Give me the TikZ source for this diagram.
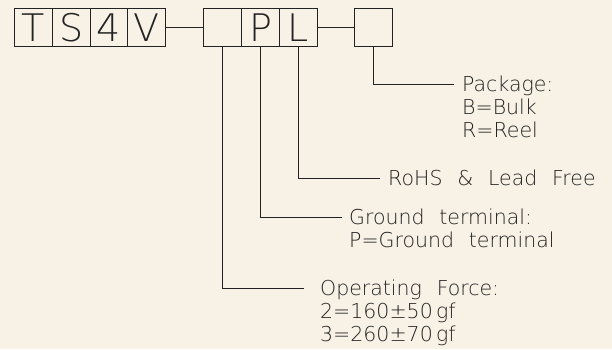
\documentclass[tikz,border=0pt]{standalone}
\usepackage{fontspec}
\IfFontExistsTF{DejaVu Sans ExtraLight}
  {\setmainfont{DejaVu Sans ExtraLight}[WordSpace=2.27]}
  {\setmainfont{DejaVu Sans}[WordSpace=2.27]}
\usetikzlibrary{positioning}
\definecolor{paper}{HTML}{F8F2E6}
\definecolor{ink}{HTML}{222222}
\begin{document}
\begin{tikzpicture}[x=1pt, y=-1pt,
  code/.style={draw=ink, line width=1.2pt, minimum width=37.75pt, minimum height=38pt,
    inner sep=0pt, anchor=north west, text=ink, font=\fontsize{38}{38}\selectfont},
  lead/.style={draw=ink, line width=0.9pt},
  note/.style={anchor=north west, inner sep=0pt, align=left, text=ink,
    font=\fontsize{20.5}{23}\selectfont}]
\fill[paper] (0,0) rectangle (612,349);
\useasboundingbox (0,0) rectangle (612,349);
% series code
\foreach \ch [count=\i] in {T,S,4,V}
  \node[code] (c\i) at ({14+37.75*(\i-1)},8) {\ch};
% option code
\foreach \ch [count=\i] in {{},P,L}
  \node[code] (d\i) at ({203+38*(\i-1)},8) {\ch};
\node[code] (pk) at (354,8) {};
\draw[lead] (c4.east) -- (d1.west);
\draw[lead] (d3.east) -- (pk.west);
% leader ends
\coordinate (epk) at (454,84);
\coordinate (erh) at (380,178);
\coordinate (egt) at (342,217);
\coordinate (eof) at (304,288);
\draw[lead] (pk.south) |- (epk);
\draw[lead] (d3.south) |- (erh);
\draw[lead] (d2.south) |- (egt);
\draw[lead] (d1.south) |- (eof);
% notes
\node[note] (npk) at ([xshift=8pt, yshift=8pt]epk) {Package:\\B=Bulk\\R=Reel};
\node[note] (nrh) at ([xshift=8pt, yshift=8pt]erh) {RoHS \& Lead Free};
\node[note] (ngt) at ([xshift=7pt, yshift=8pt]egt) {Ground terminal:\\P=Ground terminal};
\node[note] (nof) at ([xshift=16pt, yshift=8pt]eof) {Operating Force:\\2=160±50\,gf\\3=260±70\,gf};
\end{tikzpicture}
\end{document}
